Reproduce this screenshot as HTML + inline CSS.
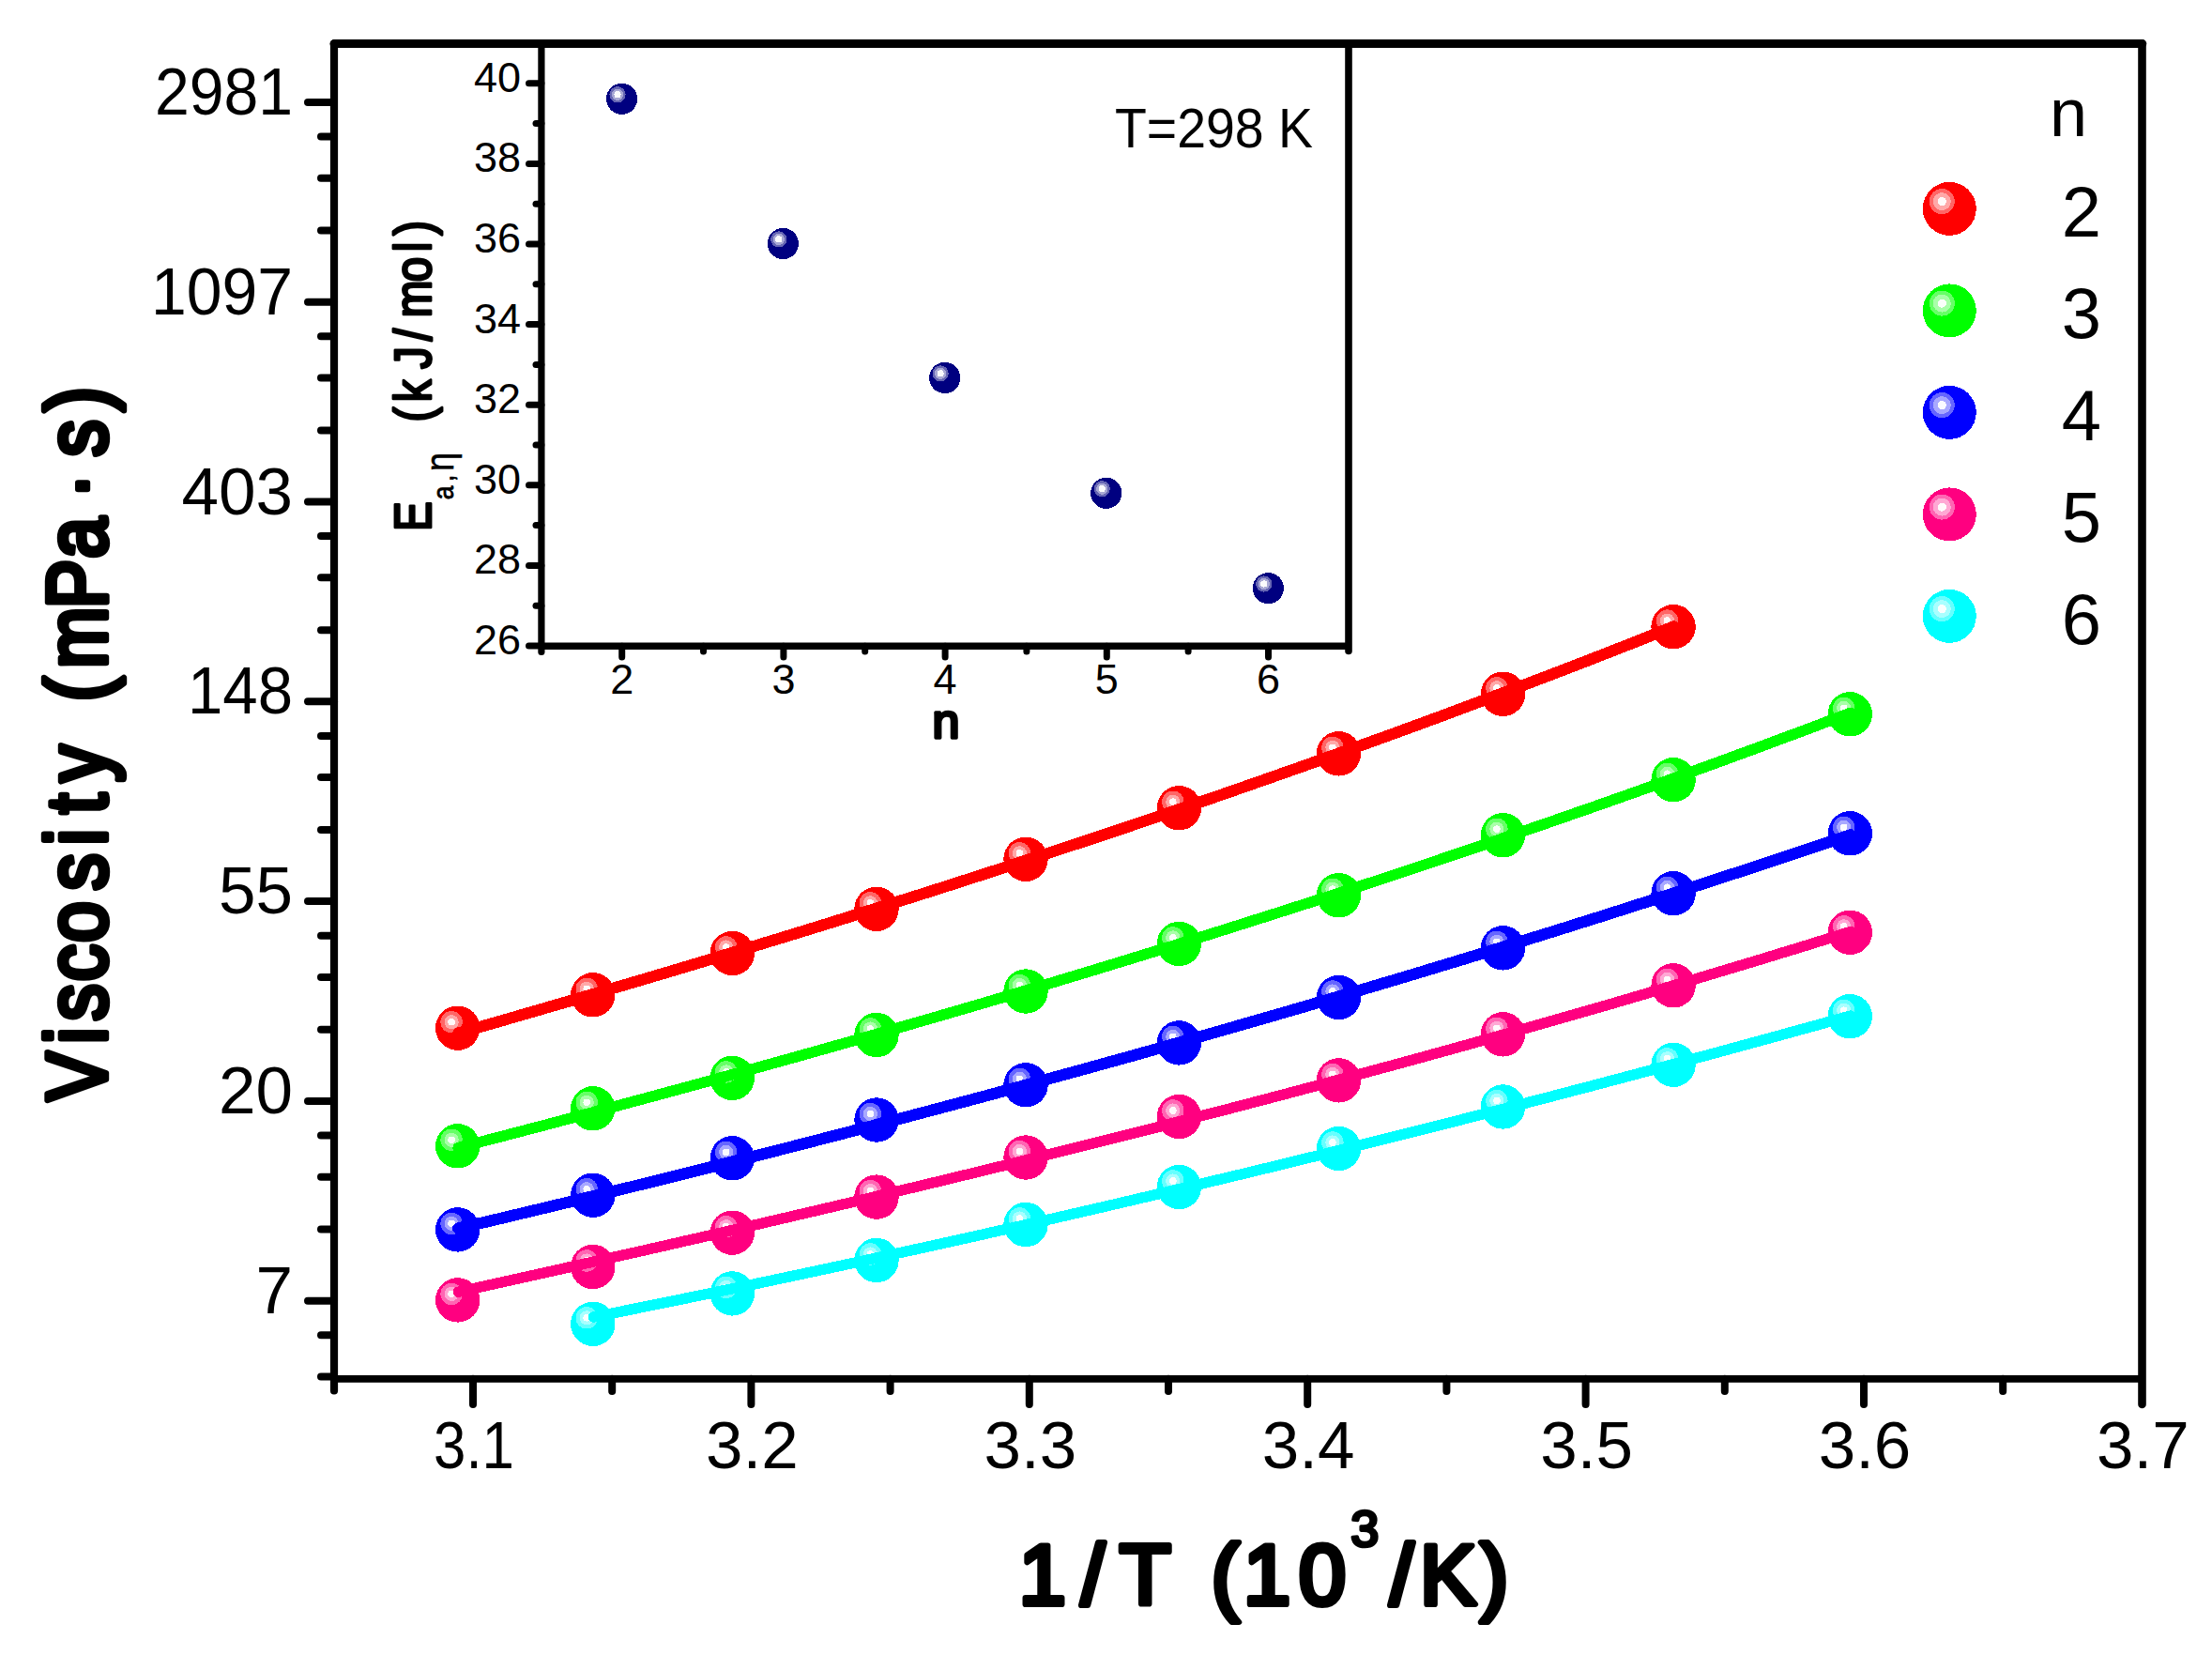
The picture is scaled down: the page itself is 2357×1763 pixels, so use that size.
<!DOCTYPE html>
<html><head><meta charset="utf-8"><title>Viscosity vs 1/T</title>
<style>html,body{margin:0;padding:0;background:#fff}svg{display:block}</style></head>
<body>
<svg width="2357" height="1763" viewBox="0 0 2357 1763" font-family='"Liberation Sans", "DejaVu Sans", sans-serif' fill="#000">
<rect width="2357" height="1763" fill="#fff"/>
<g shape-rendering="crispEdges">
<circle cx="487.7" cy="1095.2" r="23.7" fill="#FF0000"/>
<circle cx="481.1" cy="1088.7" r="11.7" fill="#FF6666"/>
<circle cx="481.1" cy="1088.7" r="7.6" fill="#FFA8A8"/>
<circle cx="481.1" cy="1088.7" r="3.8" fill="#FFFAFA"/>
<circle cx="631.8" cy="1059.8" r="23.7" fill="#FF0000"/>
<circle cx="625.2" cy="1053.3" r="11.7" fill="#FF6666"/>
<circle cx="625.2" cy="1053.3" r="7.6" fill="#FFA8A8"/>
<circle cx="625.2" cy="1053.3" r="3.8" fill="#FFFAFA"/>
<circle cx="780.3" cy="1015.5" r="23.7" fill="#FF0000"/>
<circle cx="773.7" cy="1009.0" r="11.7" fill="#FF6666"/>
<circle cx="773.7" cy="1009.0" r="7.6" fill="#FFA8A8"/>
<circle cx="773.7" cy="1009.0" r="3.8" fill="#FFFAFA"/>
<circle cx="934.0" cy="968.3" r="23.7" fill="#FF0000"/>
<circle cx="927.4" cy="961.8" r="11.7" fill="#FF6666"/>
<circle cx="927.4" cy="961.8" r="7.6" fill="#FFA8A8"/>
<circle cx="927.4" cy="961.8" r="3.8" fill="#FFFAFA"/>
<circle cx="1093.0" cy="915.3" r="23.7" fill="#FF0000"/>
<circle cx="1086.4" cy="908.8" r="11.7" fill="#FF6666"/>
<circle cx="1086.4" cy="908.8" r="7.6" fill="#FFA8A8"/>
<circle cx="1086.4" cy="908.8" r="3.8" fill="#FFFAFA"/>
<circle cx="1256.4" cy="860.7" r="23.7" fill="#FF0000"/>
<circle cx="1249.8" cy="854.2" r="11.7" fill="#FF6666"/>
<circle cx="1249.8" cy="854.2" r="7.6" fill="#FFA8A8"/>
<circle cx="1249.8" cy="854.2" r="3.8" fill="#FFFAFA"/>
<circle cx="1426.5" cy="802.8" r="23.7" fill="#FF0000"/>
<circle cx="1419.9" cy="796.3" r="11.7" fill="#FF6666"/>
<circle cx="1419.9" cy="796.3" r="7.6" fill="#FFA8A8"/>
<circle cx="1419.9" cy="796.3" r="3.8" fill="#FFFAFA"/>
<circle cx="1601.5" cy="739.3" r="23.7" fill="#FF0000"/>
<circle cx="1594.9" cy="732.8" r="11.7" fill="#FF6666"/>
<circle cx="1594.9" cy="732.8" r="7.6" fill="#FFA8A8"/>
<circle cx="1594.9" cy="732.8" r="3.8" fill="#FFFAFA"/>
<circle cx="1783.1" cy="667.6" r="23.7" fill="#FF0000"/>
<circle cx="1776.5" cy="661.1" r="11.7" fill="#FF6666"/>
<circle cx="1776.5" cy="661.1" r="7.6" fill="#FFA8A8"/>
<circle cx="1776.5" cy="661.1" r="3.8" fill="#FFFAFA"/>
<polyline points="488.2,1100.6 532.9,1087.8 577.5,1074.9 622.2,1061.9 666.9,1048.8 711.5,1035.6 756.2,1022.2 800.9,1008.7 845.6,995.1 890.2,981.3 934.9,967.3 979.6,953.3 1024.2,939.0 1068.9,924.6 1113.6,910.0 1158.2,895.2 1202.9,880.3 1247.6,865.2 1292.2,849.9 1336.9,834.3 1381.6,818.6 1426.2,802.7 1470.9,786.6 1515.6,770.3 1560.3,753.7 1604.9,736.9 1649.6,719.9 1694.3,702.7 1738.9,685.2 1783.6,667.4" fill="none" stroke="#FF0000" stroke-width="12.2" stroke-linecap="round" stroke-linejoin="round"/>
<circle cx="487.7" cy="1220.8" r="23.7" fill="#00FF00"/>
<circle cx="481.1" cy="1214.3" r="11.7" fill="#66FF66"/>
<circle cx="481.1" cy="1214.3" r="7.6" fill="#A8FFA8"/>
<circle cx="481.1" cy="1214.3" r="3.8" fill="#FAFFFA"/>
<circle cx="631.8" cy="1180.8" r="23.7" fill="#00FF00"/>
<circle cx="625.2" cy="1174.3" r="11.7" fill="#66FF66"/>
<circle cx="625.2" cy="1174.3" r="7.6" fill="#A8FFA8"/>
<circle cx="625.2" cy="1174.3" r="3.8" fill="#FAFFFA"/>
<circle cx="780.3" cy="1148.4" r="23.7" fill="#00FF00"/>
<circle cx="773.7" cy="1141.9" r="11.7" fill="#66FF66"/>
<circle cx="773.7" cy="1141.9" r="7.6" fill="#A8FFA8"/>
<circle cx="773.7" cy="1141.9" r="3.8" fill="#FAFFFA"/>
<circle cx="934.0" cy="1102.5" r="23.7" fill="#00FF00"/>
<circle cx="927.4" cy="1096.0" r="11.7" fill="#66FF66"/>
<circle cx="927.4" cy="1096.0" r="7.6" fill="#A8FFA8"/>
<circle cx="927.4" cy="1096.0" r="3.8" fill="#FAFFFA"/>
<circle cx="1093.0" cy="1056.0" r="23.7" fill="#00FF00"/>
<circle cx="1086.4" cy="1049.5" r="11.7" fill="#66FF66"/>
<circle cx="1086.4" cy="1049.5" r="7.6" fill="#A8FFA8"/>
<circle cx="1086.4" cy="1049.5" r="3.8" fill="#FAFFFA"/>
<circle cx="1256.4" cy="1005.4" r="23.7" fill="#00FF00"/>
<circle cx="1249.8" cy="998.9" r="11.7" fill="#66FF66"/>
<circle cx="1249.8" cy="998.9" r="7.6" fill="#A8FFA8"/>
<circle cx="1249.8" cy="998.9" r="3.8" fill="#FAFFFA"/>
<circle cx="1426.5" cy="953.7" r="23.7" fill="#00FF00"/>
<circle cx="1419.9" cy="947.2" r="11.7" fill="#66FF66"/>
<circle cx="1419.9" cy="947.2" r="7.6" fill="#A8FFA8"/>
<circle cx="1419.9" cy="947.2" r="3.8" fill="#FAFFFA"/>
<circle cx="1601.5" cy="889.7" r="23.7" fill="#00FF00"/>
<circle cx="1594.9" cy="883.2" r="11.7" fill="#66FF66"/>
<circle cx="1594.9" cy="883.2" r="7.6" fill="#A8FFA8"/>
<circle cx="1594.9" cy="883.2" r="3.8" fill="#FAFFFA"/>
<circle cx="1783.1" cy="830.7" r="23.7" fill="#00FF00"/>
<circle cx="1776.5" cy="824.2" r="11.7" fill="#66FF66"/>
<circle cx="1776.5" cy="824.2" r="7.6" fill="#A8FFA8"/>
<circle cx="1776.5" cy="824.2" r="3.8" fill="#FAFFFA"/>
<circle cx="1971.3" cy="760.8" r="23.7" fill="#00FF00"/>
<circle cx="1964.7" cy="754.3" r="11.7" fill="#66FF66"/>
<circle cx="1964.7" cy="754.3" r="7.6" fill="#A8FFA8"/>
<circle cx="1964.7" cy="754.3" r="3.8" fill="#FAFFFA"/>
<polyline points="488.2,1222.6 539.4,1209.3 590.5,1195.9 641.7,1182.3 692.8,1168.6 744.0,1154.7 795.2,1140.6 846.3,1126.4 897.5,1112.0 948.6,1097.4 999.8,1082.6 1050.9,1067.7 1102.1,1052.5 1153.3,1037.1 1204.4,1021.5 1255.6,1005.8 1306.7,989.7 1357.9,973.5 1409.1,957.1 1460.2,940.4 1511.4,923.4 1562.5,906.2 1613.7,888.8 1664.8,871.1 1716.0,853.2 1767.2,835.0 1818.3,816.5 1869.5,797.7 1920.6,778.7 1971.8,759.4" fill="none" stroke="#00FF00" stroke-width="11.6" stroke-linecap="round" stroke-linejoin="round"/>
<circle cx="487.7" cy="1309.9" r="23.7" fill="#0000FF"/>
<circle cx="481.1" cy="1303.4" r="11.7" fill="#6666FF"/>
<circle cx="481.1" cy="1303.4" r="7.6" fill="#A8A8FF"/>
<circle cx="481.1" cy="1303.4" r="3.8" fill="#FAFAFF"/>
<circle cx="631.8" cy="1273.2" r="23.7" fill="#0000FF"/>
<circle cx="625.2" cy="1266.7" r="11.7" fill="#6666FF"/>
<circle cx="625.2" cy="1266.7" r="7.6" fill="#A8A8FF"/>
<circle cx="625.2" cy="1266.7" r="3.8" fill="#FAFAFF"/>
<circle cx="780.3" cy="1233.8" r="23.7" fill="#0000FF"/>
<circle cx="773.7" cy="1227.3" r="11.7" fill="#6666FF"/>
<circle cx="773.7" cy="1227.3" r="7.6" fill="#A8A8FF"/>
<circle cx="773.7" cy="1227.3" r="3.8" fill="#FAFAFF"/>
<circle cx="934.0" cy="1193.0" r="23.7" fill="#0000FF"/>
<circle cx="927.4" cy="1186.5" r="11.7" fill="#6666FF"/>
<circle cx="927.4" cy="1186.5" r="7.6" fill="#A8A8FF"/>
<circle cx="927.4" cy="1186.5" r="3.8" fill="#FAFAFF"/>
<circle cx="1093.0" cy="1155.8" r="23.7" fill="#0000FF"/>
<circle cx="1086.4" cy="1149.3" r="11.7" fill="#6666FF"/>
<circle cx="1086.4" cy="1149.3" r="7.6" fill="#A8A8FF"/>
<circle cx="1086.4" cy="1149.3" r="3.8" fill="#FAFAFF"/>
<circle cx="1256.4" cy="1110.9" r="23.7" fill="#0000FF"/>
<circle cx="1249.8" cy="1104.4" r="11.7" fill="#6666FF"/>
<circle cx="1249.8" cy="1104.4" r="7.6" fill="#A8A8FF"/>
<circle cx="1249.8" cy="1104.4" r="3.8" fill="#FAFAFF"/>
<circle cx="1426.5" cy="1062.5" r="23.7" fill="#0000FF"/>
<circle cx="1419.9" cy="1056.0" r="11.7" fill="#6666FF"/>
<circle cx="1419.9" cy="1056.0" r="7.6" fill="#A8A8FF"/>
<circle cx="1419.9" cy="1056.0" r="3.8" fill="#FAFAFF"/>
<circle cx="1601.5" cy="1009.8" r="23.7" fill="#0000FF"/>
<circle cx="1594.9" cy="1003.3" r="11.7" fill="#6666FF"/>
<circle cx="1594.9" cy="1003.3" r="7.6" fill="#A8A8FF"/>
<circle cx="1594.9" cy="1003.3" r="3.8" fill="#FAFAFF"/>
<circle cx="1783.1" cy="951.7" r="23.7" fill="#0000FF"/>
<circle cx="1776.5" cy="945.2" r="11.7" fill="#6666FF"/>
<circle cx="1776.5" cy="945.2" r="7.6" fill="#A8A8FF"/>
<circle cx="1776.5" cy="945.2" r="3.8" fill="#FAFAFF"/>
<circle cx="1971.3" cy="887.8" r="23.7" fill="#0000FF"/>
<circle cx="1964.7" cy="881.3" r="11.7" fill="#6666FF"/>
<circle cx="1964.7" cy="881.3" r="7.6" fill="#A8A8FF"/>
<circle cx="1964.7" cy="881.3" r="3.8" fill="#FAFAFF"/>
<polyline points="488.2,1308.6 539.4,1296.5 590.5,1284.3 641.7,1271.9 692.8,1259.4 744.0,1246.7 795.2,1233.9 846.3,1220.9 897.5,1207.7 948.6,1194.4 999.8,1180.9 1050.9,1167.3 1102.1,1153.4 1153.3,1139.4 1204.4,1125.3 1255.6,1110.9 1306.7,1096.3 1357.9,1081.6 1409.1,1066.7 1460.2,1051.6 1511.4,1036.3 1562.5,1020.8 1613.7,1005.1 1664.8,989.2 1716.0,973.1 1767.2,956.7 1818.3,940.2 1869.5,923.5 1920.6,906.5 1971.8,889.3" fill="none" stroke="#0000FF" stroke-width="12.3" stroke-linecap="round" stroke-linejoin="round"/>
<circle cx="487.7" cy="1384.9" r="23.7" fill="#FF0080"/>
<circle cx="481.1" cy="1378.4" r="11.7" fill="#FF66B3"/>
<circle cx="481.1" cy="1378.4" r="7.6" fill="#FFA8D4"/>
<circle cx="481.1" cy="1378.4" r="3.8" fill="#FFFAFC"/>
<circle cx="631.8" cy="1349.5" r="23.7" fill="#FF0080"/>
<circle cx="625.2" cy="1343.0" r="11.7" fill="#FF66B3"/>
<circle cx="625.2" cy="1343.0" r="7.6" fill="#FFA8D4"/>
<circle cx="625.2" cy="1343.0" r="3.8" fill="#FFFAFC"/>
<circle cx="780.3" cy="1313.2" r="23.7" fill="#FF0080"/>
<circle cx="773.7" cy="1306.7" r="11.7" fill="#FF66B3"/>
<circle cx="773.7" cy="1306.7" r="7.6" fill="#FFA8D4"/>
<circle cx="773.7" cy="1306.7" r="3.8" fill="#FFFAFC"/>
<circle cx="934.0" cy="1275.1" r="23.7" fill="#FF0080"/>
<circle cx="927.4" cy="1268.6" r="11.7" fill="#FF66B3"/>
<circle cx="927.4" cy="1268.6" r="7.6" fill="#FFA8D4"/>
<circle cx="927.4" cy="1268.6" r="3.8" fill="#FFFAFC"/>
<circle cx="1093.0" cy="1233.0" r="23.7" fill="#FF0080"/>
<circle cx="1086.4" cy="1226.5" r="11.7" fill="#FF66B3"/>
<circle cx="1086.4" cy="1226.5" r="7.6" fill="#FFA8D4"/>
<circle cx="1086.4" cy="1226.5" r="3.8" fill="#FFFAFC"/>
<circle cx="1256.4" cy="1189.5" r="23.7" fill="#FF0080"/>
<circle cx="1249.8" cy="1183.0" r="11.7" fill="#FF66B3"/>
<circle cx="1249.8" cy="1183.0" r="7.6" fill="#FFA8D4"/>
<circle cx="1249.8" cy="1183.0" r="3.8" fill="#FFFAFC"/>
<circle cx="1426.5" cy="1150.9" r="23.7" fill="#FF0080"/>
<circle cx="1419.9" cy="1144.4" r="11.7" fill="#FF66B3"/>
<circle cx="1419.9" cy="1144.4" r="7.6" fill="#FFA8D4"/>
<circle cx="1419.9" cy="1144.4" r="3.8" fill="#FFFAFC"/>
<circle cx="1601.5" cy="1101.8" r="23.7" fill="#FF0080"/>
<circle cx="1594.9" cy="1095.3" r="11.7" fill="#FF66B3"/>
<circle cx="1594.9" cy="1095.3" r="7.6" fill="#FFA8D4"/>
<circle cx="1594.9" cy="1095.3" r="3.8" fill="#FFFAFC"/>
<circle cx="1783.1" cy="1049.8" r="23.7" fill="#FF0080"/>
<circle cx="1776.5" cy="1043.3" r="11.7" fill="#FF66B3"/>
<circle cx="1776.5" cy="1043.3" r="7.6" fill="#FFA8D4"/>
<circle cx="1776.5" cy="1043.3" r="3.8" fill="#FFFAFC"/>
<circle cx="1971.3" cy="993.3" r="23.7" fill="#FF0080"/>
<circle cx="1964.7" cy="986.8" r="11.7" fill="#FF66B3"/>
<circle cx="1964.7" cy="986.8" r="7.6" fill="#FFA8D4"/>
<circle cx="1964.7" cy="986.8" r="3.8" fill="#FFFAFC"/>
<polyline points="488.2,1376.2 539.4,1364.9 590.5,1353.5 641.7,1342.0 692.8,1330.5 744.0,1318.8 795.2,1307.0 846.3,1295.1 897.5,1283.1 948.6,1270.9 999.8,1258.6 1050.9,1246.2 1102.1,1233.7 1153.3,1220.9 1204.4,1208.1 1255.6,1195.0 1306.7,1181.9 1357.9,1168.5 1409.1,1154.9 1460.2,1141.2 1511.4,1127.3 1562.5,1113.2 1613.7,1098.9 1664.8,1084.3 1716.0,1069.6 1767.2,1054.6 1818.3,1039.4 1869.5,1024.0 1920.6,1008.4 1971.8,992.5" fill="none" stroke="#FF0080" stroke-width="11.4" stroke-linecap="round" stroke-linejoin="round"/>
<circle cx="631.8" cy="1410.3" r="23.7" fill="#00FFFF"/>
<circle cx="625.2" cy="1403.8" r="11.7" fill="#66FFFF"/>
<circle cx="625.2" cy="1403.8" r="7.6" fill="#A8FFFF"/>
<circle cx="625.2" cy="1403.8" r="3.8" fill="#FAFFFF"/>
<circle cx="780.3" cy="1377.9" r="23.7" fill="#00FFFF"/>
<circle cx="773.7" cy="1371.4" r="11.7" fill="#66FFFF"/>
<circle cx="773.7" cy="1371.4" r="7.6" fill="#A8FFFF"/>
<circle cx="773.7" cy="1371.4" r="3.8" fill="#FAFFFF"/>
<circle cx="934.0" cy="1342.5" r="23.7" fill="#00FFFF"/>
<circle cx="927.4" cy="1336.0" r="11.7" fill="#66FFFF"/>
<circle cx="927.4" cy="1336.0" r="7.6" fill="#A8FFFF"/>
<circle cx="927.4" cy="1336.0" r="3.8" fill="#FAFFFF"/>
<circle cx="1093.0" cy="1304.5" r="23.7" fill="#00FFFF"/>
<circle cx="1086.4" cy="1298.0" r="11.7" fill="#66FFFF"/>
<circle cx="1086.4" cy="1298.0" r="7.6" fill="#A8FFFF"/>
<circle cx="1086.4" cy="1298.0" r="3.8" fill="#FAFFFF"/>
<circle cx="1256.4" cy="1264.5" r="23.7" fill="#00FFFF"/>
<circle cx="1249.8" cy="1258.0" r="11.7" fill="#66FFFF"/>
<circle cx="1249.8" cy="1258.0" r="7.6" fill="#A8FFFF"/>
<circle cx="1249.8" cy="1258.0" r="3.8" fill="#FAFFFF"/>
<circle cx="1426.5" cy="1223.5" r="23.7" fill="#00FFFF"/>
<circle cx="1419.9" cy="1217.0" r="11.7" fill="#66FFFF"/>
<circle cx="1419.9" cy="1217.0" r="7.6" fill="#A8FFFF"/>
<circle cx="1419.9" cy="1217.0" r="3.8" fill="#FAFFFF"/>
<circle cx="1601.5" cy="1179.0" r="23.7" fill="#00FFFF"/>
<circle cx="1594.9" cy="1172.5" r="11.7" fill="#66FFFF"/>
<circle cx="1594.9" cy="1172.5" r="7.6" fill="#A8FFFF"/>
<circle cx="1594.9" cy="1172.5" r="3.8" fill="#FAFFFF"/>
<circle cx="1783.1" cy="1134.3" r="23.7" fill="#00FFFF"/>
<circle cx="1776.5" cy="1127.8" r="11.7" fill="#66FFFF"/>
<circle cx="1776.5" cy="1127.8" r="7.6" fill="#A8FFFF"/>
<circle cx="1776.5" cy="1127.8" r="3.8" fill="#FAFFFF"/>
<circle cx="1971.3" cy="1082.7" r="23.7" fill="#00FFFF"/>
<circle cx="1964.7" cy="1076.2" r="11.7" fill="#66FFFF"/>
<circle cx="1964.7" cy="1076.2" r="7.6" fill="#A8FFFF"/>
<circle cx="1964.7" cy="1076.2" r="3.8" fill="#FAFFFF"/>
<polyline points="632.3,1403.0 678.5,1393.7 724.7,1384.3 770.9,1374.8 817.1,1365.1 863.2,1355.3 909.4,1345.4 955.6,1335.3 1001.8,1325.1 1048.0,1314.8 1094.2,1304.4 1140.4,1293.8 1186.6,1283.1 1232.8,1272.3 1279.0,1261.3 1325.1,1250.3 1371.3,1239.1 1417.5,1227.7 1463.7,1216.3 1509.9,1204.7 1556.1,1193.0 1602.3,1181.2 1648.5,1169.2 1694.7,1157.1 1740.9,1144.9 1787.0,1132.6 1833.2,1120.2 1879.4,1107.6 1925.6,1094.9 1971.8,1082.1" fill="none" stroke="#00FFFF" stroke-width="11.4" stroke-linecap="round" stroke-linejoin="round"/>
</g>
<line x1="356.0" y1="46.6" x2="2282.8" y2="46.6" stroke="#000" stroke-width="9.0" stroke-linecap="round"/>
<line x1="356.0" y1="46.6" x2="356.0" y2="1481.5" stroke="#000" stroke-width="8.2" stroke-linecap="round"/>
<line x1="2282.5" y1="46.6" x2="2282.5" y2="1496.0" stroke="#000" stroke-width="8.6" stroke-linecap="round"/>
<line x1="356.0" y1="1468.8" x2="2282.5" y2="1468.8" stroke="#000" stroke-width="7.8" stroke-linecap="butt"/>
<line x1="504.0" y1="1468.8" x2="504.0" y2="1496.0" stroke="#000" stroke-width="8" stroke-linecap="round"/>
<line x1="800.4" y1="1468.8" x2="800.4" y2="1496.0" stroke="#000" stroke-width="8" stroke-linecap="round"/>
<line x1="1096.8" y1="1468.8" x2="1096.8" y2="1496.0" stroke="#000" stroke-width="8" stroke-linecap="round"/>
<line x1="1393.2" y1="1468.8" x2="1393.2" y2="1496.0" stroke="#000" stroke-width="8" stroke-linecap="round"/>
<line x1="1689.6" y1="1468.8" x2="1689.6" y2="1496.0" stroke="#000" stroke-width="8" stroke-linecap="round"/>
<line x1="1986.0" y1="1468.8" x2="1986.0" y2="1496.0" stroke="#000" stroke-width="8" stroke-linecap="round"/>
<line x1="652.2" y1="1468.8" x2="652.2" y2="1482.0" stroke="#000" stroke-width="8" stroke-linecap="round"/>
<line x1="948.6" y1="1468.8" x2="948.6" y2="1482.0" stroke="#000" stroke-width="8" stroke-linecap="round"/>
<line x1="1245.0" y1="1468.8" x2="1245.0" y2="1482.0" stroke="#000" stroke-width="8" stroke-linecap="round"/>
<line x1="1541.4" y1="1468.8" x2="1541.4" y2="1482.0" stroke="#000" stroke-width="8" stroke-linecap="round"/>
<line x1="1837.8" y1="1468.8" x2="1837.8" y2="1482.0" stroke="#000" stroke-width="8" stroke-linecap="round"/>
<line x1="2134.2" y1="1468.8" x2="2134.2" y2="1482.0" stroke="#000" stroke-width="8" stroke-linecap="round"/>
<line x1="328.0" y1="108.9" x2="356.0" y2="108.9" stroke="#000" stroke-width="8" stroke-linecap="round"/>
<line x1="342.0" y1="245.6" x2="356.0" y2="245.6" stroke="#000" stroke-width="8" stroke-linecap="round"/>
<line x1="342.0" y1="189.7" x2="356.0" y2="189.7" stroke="#000" stroke-width="8" stroke-linecap="round"/>
<line x1="342.0" y1="145.5" x2="356.0" y2="145.5" stroke="#000" stroke-width="8" stroke-linecap="round"/>
<line x1="328.0" y1="321.7" x2="356.0" y2="321.7" stroke="#000" stroke-width="8" stroke-linecap="round"/>
<line x1="342.0" y1="458.4" x2="356.0" y2="458.4" stroke="#000" stroke-width="8" stroke-linecap="round"/>
<line x1="342.0" y1="402.5" x2="356.0" y2="402.5" stroke="#000" stroke-width="8" stroke-linecap="round"/>
<line x1="342.0" y1="358.3" x2="356.0" y2="358.3" stroke="#000" stroke-width="8" stroke-linecap="round"/>
<line x1="328.0" y1="534.5" x2="356.0" y2="534.5" stroke="#000" stroke-width="8" stroke-linecap="round"/>
<line x1="342.0" y1="671.2" x2="356.0" y2="671.2" stroke="#000" stroke-width="8" stroke-linecap="round"/>
<line x1="342.0" y1="615.3" x2="356.0" y2="615.3" stroke="#000" stroke-width="8" stroke-linecap="round"/>
<line x1="342.0" y1="571.1" x2="356.0" y2="571.1" stroke="#000" stroke-width="8" stroke-linecap="round"/>
<line x1="328.0" y1="747.3" x2="356.0" y2="747.3" stroke="#000" stroke-width="8" stroke-linecap="round"/>
<line x1="342.0" y1="884.0" x2="356.0" y2="884.0" stroke="#000" stroke-width="8" stroke-linecap="round"/>
<line x1="342.0" y1="828.1" x2="356.0" y2="828.1" stroke="#000" stroke-width="8" stroke-linecap="round"/>
<line x1="342.0" y1="783.9" x2="356.0" y2="783.9" stroke="#000" stroke-width="8" stroke-linecap="round"/>
<line x1="328.0" y1="960.1" x2="356.0" y2="960.1" stroke="#000" stroke-width="8" stroke-linecap="round"/>
<line x1="342.0" y1="1096.8" x2="356.0" y2="1096.8" stroke="#000" stroke-width="8" stroke-linecap="round"/>
<line x1="342.0" y1="1040.9" x2="356.0" y2="1040.9" stroke="#000" stroke-width="8" stroke-linecap="round"/>
<line x1="342.0" y1="996.7" x2="356.0" y2="996.7" stroke="#000" stroke-width="8" stroke-linecap="round"/>
<line x1="328.0" y1="1172.9" x2="356.0" y2="1172.9" stroke="#000" stroke-width="8" stroke-linecap="round"/>
<line x1="342.0" y1="1309.6" x2="356.0" y2="1309.6" stroke="#000" stroke-width="8" stroke-linecap="round"/>
<line x1="342.0" y1="1253.7" x2="356.0" y2="1253.7" stroke="#000" stroke-width="8" stroke-linecap="round"/>
<line x1="342.0" y1="1209.5" x2="356.0" y2="1209.5" stroke="#000" stroke-width="8" stroke-linecap="round"/>
<line x1="328.0" y1="1385.7" x2="356.0" y2="1385.7" stroke="#000" stroke-width="8" stroke-linecap="round"/>
<line x1="342.0" y1="1466.5" x2="356.0" y2="1466.5" stroke="#000" stroke-width="8" stroke-linecap="round"/>
<line x1="342.0" y1="1422.3" x2="356.0" y2="1422.3" stroke="#000" stroke-width="8" stroke-linecap="round"/>
<text x="312" y="121.9" font-size="71" text-anchor="end" textLength="147" lengthAdjust="spacingAndGlyphs">2981</text>
<text x="312" y="334.7" font-size="71" text-anchor="end" textLength="151" lengthAdjust="spacingAndGlyphs">1097</text>
<text x="312" y="547.5" font-size="71" text-anchor="end">403</text>
<text x="312" y="760.3" font-size="71" text-anchor="end" textLength="112" lengthAdjust="spacingAndGlyphs">148</text>
<text x="312" y="973.1" font-size="71" text-anchor="end">55</text>
<text x="312" y="1185.9" font-size="71" text-anchor="end">20</text>
<text x="312" y="1398.7" font-size="71" text-anchor="end">7</text>
<text x="505.0" y="1563.5" font-size="71" text-anchor="middle" textLength="86" lengthAdjust="spacingAndGlyphs">3.1</text>
<text x="801.4" y="1563.5" font-size="71" text-anchor="middle">3.2</text>
<text x="1097.8" y="1563.5" font-size="71" text-anchor="middle">3.3</text>
<text x="1394.2" y="1563.5" font-size="71" text-anchor="middle">3.4</text>
<text x="1690.6" y="1563.5" font-size="71" text-anchor="middle">3.5</text>
<text x="1987.0" y="1563.5" font-size="71" text-anchor="middle">3.6</text>
<text x="2283.4" y="1563.5" font-size="71" text-anchor="middle">3.7</text>
<text transform="translate(113 1173) rotate(-90) scale(0.86 1)" x="0.4 70.9 99.3 148.5 196.6 261.0 316.9 355.9 395.4 470.9 495.1 536.2 610.2 672.5 746.7 798.4 854.4" y="0" xml:space="preserve" font-size="91.5" stroke="#000" stroke-width="6.4" stroke-linejoin="round">Viscosity (mPa·s)</text>
<text y="1708.5" xml:space="preserve" font-size="90" stroke="#000" stroke-width="6.2" stroke-linejoin="round"><tspan x="1085.7 1152.0 1192.7 1270.0 1290.8 1325.0 1384.0">1/T (10</tspan><tspan x="1439.3" dy="-62" font-size="54" stroke-width="3.6">3</tspan><tspan x="1480.9 1513.1 1577.2" dy="62">/K)</tspan></text>
<text x="2204" y="144.7" font-size="72" text-anchor="middle">n</text>
<g shape-rendering="crispEdges">
<circle cx="2077.3" cy="222.4" r="28.5" fill="#FF0000"/>
<circle cx="2069.3" cy="214.6" r="13.5" fill="#FF6666"/>
<circle cx="2069.3" cy="214.6" r="9.5" fill="#FFA8A8"/>
<circle cx="2069.3" cy="214.6" r="4.6" fill="#FFFAFA"/>
</g>
<text x="2218" y="251.9" font-size="76" text-anchor="middle">2</text>
<g shape-rendering="crispEdges">
<circle cx="2077.3" cy="330.9" r="28.5" fill="#00FF00"/>
<circle cx="2069.3" cy="323.1" r="13.5" fill="#66FF66"/>
<circle cx="2069.3" cy="323.1" r="9.5" fill="#A8FFA8"/>
<circle cx="2069.3" cy="323.1" r="4.6" fill="#FAFFFA"/>
</g>
<text x="2218" y="360.4" font-size="76" text-anchor="middle">3</text>
<g shape-rendering="crispEdges">
<circle cx="2077.3" cy="439.4" r="28.5" fill="#0000FF"/>
<circle cx="2069.3" cy="431.6" r="13.5" fill="#6666FF"/>
<circle cx="2069.3" cy="431.6" r="9.5" fill="#A8A8FF"/>
<circle cx="2069.3" cy="431.6" r="4.6" fill="#FAFAFF"/>
</g>
<text x="2218" y="468.9" font-size="76" text-anchor="middle">4</text>
<g shape-rendering="crispEdges">
<circle cx="2077.3" cy="547.9" r="28.5" fill="#FF0080"/>
<circle cx="2069.3" cy="540.1" r="13.5" fill="#FF66B3"/>
<circle cx="2069.3" cy="540.1" r="9.5" fill="#FFA8D4"/>
<circle cx="2069.3" cy="540.1" r="4.6" fill="#FFFAFC"/>
</g>
<text x="2218" y="577.4" font-size="76" text-anchor="middle">5</text>
<g shape-rendering="crispEdges">
<circle cx="2077.3" cy="656.4" r="28.5" fill="#00FFFF"/>
<circle cx="2069.3" cy="648.6" r="13.5" fill="#66FFFF"/>
<circle cx="2069.3" cy="648.6" r="9.5" fill="#A8FFFF"/>
<circle cx="2069.3" cy="648.6" r="4.6" fill="#FAFFFF"/>
</g>
<text x="2218" y="685.9" font-size="76" text-anchor="middle">6</text>
<line x1="576.9" y1="46.6" x2="576.9" y2="694.5" stroke="#000" stroke-width="7.2" stroke-linecap="round"/>
<line x1="1437.0" y1="46.6" x2="1437.0" y2="693.5" stroke="#000" stroke-width="7.6" stroke-linecap="round"/>
<line x1="576.9" y1="688.2" x2="1437.0" y2="688.2" stroke="#000" stroke-width="7.6" stroke-linecap="butt"/>
<line x1="662.7" y1="688.2" x2="662.7" y2="700.0" stroke="#000" stroke-width="7" stroke-linecap="round"/>
<line x1="834.9" y1="688.2" x2="834.9" y2="700.0" stroke="#000" stroke-width="7" stroke-linecap="round"/>
<line x1="1007.1" y1="688.2" x2="1007.1" y2="700.0" stroke="#000" stroke-width="7" stroke-linecap="round"/>
<line x1="1179.3" y1="688.2" x2="1179.3" y2="700.0" stroke="#000" stroke-width="7" stroke-linecap="round"/>
<line x1="1351.5" y1="688.2" x2="1351.5" y2="700.0" stroke="#000" stroke-width="7" stroke-linecap="round"/>
<line x1="749.5" y1="688.2" x2="749.5" y2="694.0" stroke="#000" stroke-width="7" stroke-linecap="round"/>
<line x1="921.7" y1="688.2" x2="921.7" y2="694.0" stroke="#000" stroke-width="7" stroke-linecap="round"/>
<line x1="1093.9" y1="688.2" x2="1093.9" y2="694.0" stroke="#000" stroke-width="7" stroke-linecap="round"/>
<line x1="1266.1" y1="688.2" x2="1266.1" y2="694.0" stroke="#000" stroke-width="7" stroke-linecap="round"/>
<line x1="563.5" y1="88.8" x2="576.9" y2="88.8" stroke="#000" stroke-width="7" stroke-linecap="round"/>
<line x1="571.0" y1="131.6" x2="576.9" y2="131.6" stroke="#000" stroke-width="7" stroke-linecap="round"/>
<line x1="563.5" y1="174.4" x2="576.9" y2="174.4" stroke="#000" stroke-width="7" stroke-linecap="round"/>
<line x1="571.0" y1="217.2" x2="576.9" y2="217.2" stroke="#000" stroke-width="7" stroke-linecap="round"/>
<line x1="563.5" y1="260.0" x2="576.9" y2="260.0" stroke="#000" stroke-width="7" stroke-linecap="round"/>
<line x1="571.0" y1="302.8" x2="576.9" y2="302.8" stroke="#000" stroke-width="7" stroke-linecap="round"/>
<line x1="563.5" y1="345.6" x2="576.9" y2="345.6" stroke="#000" stroke-width="7" stroke-linecap="round"/>
<line x1="571.0" y1="388.4" x2="576.9" y2="388.4" stroke="#000" stroke-width="7" stroke-linecap="round"/>
<line x1="563.5" y1="431.2" x2="576.9" y2="431.2" stroke="#000" stroke-width="7" stroke-linecap="round"/>
<line x1="571.0" y1="474.0" x2="576.9" y2="474.0" stroke="#000" stroke-width="7" stroke-linecap="round"/>
<line x1="563.5" y1="516.8" x2="576.9" y2="516.8" stroke="#000" stroke-width="7" stroke-linecap="round"/>
<line x1="571.0" y1="559.6" x2="576.9" y2="559.6" stroke="#000" stroke-width="7" stroke-linecap="round"/>
<line x1="563.5" y1="602.4" x2="576.9" y2="602.4" stroke="#000" stroke-width="7" stroke-linecap="round"/>
<line x1="571.0" y1="645.2" x2="576.9" y2="645.2" stroke="#000" stroke-width="7" stroke-linecap="round"/>
<line x1="563.5" y1="688.0" x2="576.9" y2="688.0" stroke="#000" stroke-width="7" stroke-linecap="round"/>
<text x="555" y="97.8" font-size="45" text-anchor="end">40</text>
<text x="555" y="183.4" font-size="45" text-anchor="end">38</text>
<text x="555" y="269.0" font-size="45" text-anchor="end">36</text>
<text x="555" y="354.6" font-size="45" text-anchor="end">34</text>
<text x="555" y="440.2" font-size="45" text-anchor="end">32</text>
<text x="555" y="525.8" font-size="45" text-anchor="end">30</text>
<text x="555" y="611.4" font-size="45" text-anchor="end">28</text>
<text x="555" y="697.0" font-size="45" text-anchor="end">26</text>
<text x="662.7" y="739" font-size="45" text-anchor="middle">2</text>
<text x="834.9" y="739" font-size="45" text-anchor="middle">3</text>
<text x="1007.1" y="739" font-size="45" text-anchor="middle">4</text>
<text x="1179.3" y="739" font-size="45" text-anchor="middle">5</text>
<text x="1351.5" y="739" font-size="45" text-anchor="middle">6</text>
<text x="1008" y="785.6" font-size="52" stroke="#000" stroke-width="3.5" stroke-linejoin="round" text-anchor="middle">n</text>
<text x="1188" y="157" font-size="58.5" textLength="211" lengthAdjust="spacingAndGlyphs">T=298 K</text>
<text transform="translate(458.5 563.4) rotate(-90) scale(0.85 1)" y="0" xml:space="preserve" font-size="56" stroke="#000" stroke-width="2.9" stroke-linejoin="round"><tspan x="-3.1">E</tspan><tspan x="36.8 59.3" dy="24.5" font-size="31" stroke-width="0.8">a,</tspan><tspan x="72.5" font-size="42" stroke-width="0.6">η</tspan><tspan x="117.6 134.0 158.9 200.4 235.4 264.8 309.6 347.2 367.9" dy="-24.5"> (kJ/mol)</tspan></text>
<g shape-rendering="crispEdges">
<circle cx="662.6" cy="105.3" r="16.6" fill="#000080"/>
<circle cx="658.0" cy="100.7" r="8.6" fill="#6666B3"/>
<circle cx="658.0" cy="100.7" r="6.1" fill="#A8A8D4"/>
<circle cx="658.0" cy="100.7" r="3.6" fill="#FAFAFC"/>
<circle cx="834.4" cy="259.5" r="16.6" fill="#000080"/>
<circle cx="829.8" cy="254.9" r="8.6" fill="#6666B3"/>
<circle cx="829.8" cy="254.9" r="6.1" fill="#A8A8D4"/>
<circle cx="829.8" cy="254.9" r="3.6" fill="#FAFAFC"/>
<circle cx="1006.7" cy="402.5" r="16.6" fill="#000080"/>
<circle cx="1002.1" cy="397.9" r="8.6" fill="#6666B3"/>
<circle cx="1002.1" cy="397.9" r="6.1" fill="#A8A8D4"/>
<circle cx="1002.1" cy="397.9" r="3.6" fill="#FAFAFC"/>
<circle cx="1178.8" cy="525.3" r="16.6" fill="#000080"/>
<circle cx="1174.2" cy="520.7" r="8.6" fill="#6666B3"/>
<circle cx="1174.2" cy="520.7" r="6.1" fill="#A8A8D4"/>
<circle cx="1174.2" cy="520.7" r="3.6" fill="#FAFAFC"/>
<circle cx="1351.4" cy="626.6" r="16.6" fill="#000080"/>
<circle cx="1346.8" cy="622.0" r="8.6" fill="#6666B3"/>
<circle cx="1346.8" cy="622.0" r="6.1" fill="#A8A8D4"/>
<circle cx="1346.8" cy="622.0" r="3.6" fill="#FAFAFC"/>
</g>
</svg>
</body></html>
